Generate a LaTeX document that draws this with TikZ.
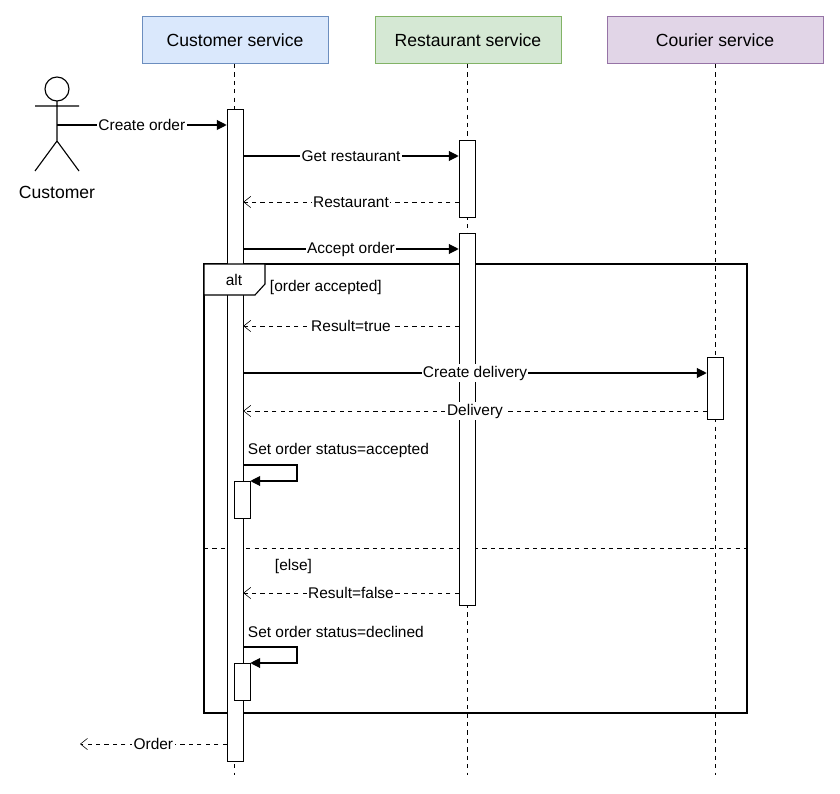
\documentclass[tikz,border=0pt]{standalone}
\usepackage{fontspec}
\setmainfont{Liberation Sans}
\usetikzlibrary{arrows.meta, positioning, calc}
\definecolor{csblue}{HTML}{DAE8FC}
\definecolor{csblueline}{HTML}{6C8EBF}
\definecolor{rsgreen}{HTML}{D5E8D4}
\definecolor{rsgreenline}{HTML}{82B366}
\definecolor{cspurple}{HTML}{E1D5E7}
\definecolor{cspurpleline}{HTML}{9673A6}
\begin{document}
\begin{tikzpicture}[x=0.025cm, y=-0.025cm,
  every node/.style={font=\fontsize{11}{13}\selectfont},
  service/.style={rectangle, draw, minimum width=4.65cm, minimum height=1.18cm, font=\fontsize{12.5}{15}\selectfont},
  act/.style={rectangle, draw, fill=white, minimum width=0.4cm, inner sep=0pt},
  life/.style={dashed, thin},
  msg/.style={-{Triangle[length=7pt, width=7pt]}, thick},
  ret/.style={-{Straight Barb[length=5pt, width=8pt]}, dashed, thin},
  lbl/.style={fill=white, inner sep=1pt},
]
\useasboundingbox (0,0) rectangle (840,794);

% Services
\node[service, fill=csblue, draw=csblueline] (cust) at (235,40) {Customer service};
\node[service, fill=rsgreen, draw=rsgreenline] (rest) at (468,40) {Restaurant service};
\node[service, fill=cspurple, draw=cspurpleline, minimum width=5.4cm] (cour) at (715,40) {Courier service};

% Lifelines
\coordinate (custend) at (234,775);
\coordinate (restend) at (467,775);
\coordinate (courend) at (715,775);
\draw[life] (cust.south -| custend) -- (custend);
\draw[life] (rest.south -| restend) -- (restend);
\draw[life] (cour.south -| courend) -- (courend);

% Actor
\draw[thick] (57,89) circle (12);
\draw[thick] (57,101) -- (57,141) (35,106) -- (79,106) (35,171) -- (57,141) -- (79,171);
\node (actor) at (57,192) {\fontsize{12.5}{15}\selectfont Customer};
\coordinate (actorhand) at (57,125);

% Frame
\draw[thick] (204,264) rectangle (747,713);
\node[anchor=west] (accepted) at (265,287) {[order accepted]};
\draw[dashed, thin] (204,548) -- (747,548);
\node[anchor=west] (else) at (270,566) {[else]};

% Activations
\node[act, minimum height=16.3cm, anchor=north] (a1) at (235,109) {};
\node[act, minimum height=1.93cm, anchor=north] (r1) at (467,140) {};
\node[act, minimum height=9.3cm, anchor=north] (r2) at (467,233) {};
\node[act, minimum height=1.55cm, anchor=north] (c1) at (715,357) {};
\node[act, minimum height=0.93cm, anchor=north] (s1) at (242,481) {};
\node[act, minimum height=0.93cm, anchor=north] (s2) at (242,663) {};

% Frame tab
\draw[thick, fill=white] (204,264) -- (265,264) -- (265,284) -- (255,295) -- (204,295) -- cycle;
\node (alt) at (234,280) {alt};

% Messages
\draw[msg] (actorhand) -- node[lbl] {Create order} (actorhand -| a1.west);
\draw[msg] (a1.east |- 0,156) -- node[lbl] {Get restaurant} (r1.west |- 0,156);
\draw[ret] (r1.west |- 0,202) -- node[lbl] {Restaurant} (a1.east |- 0,202);
\draw[msg] (a1.east |- 0,249) -- node[lbl] {Accept order} (r2.west |- 0,249);
\draw[ret] (r2.west |- 0,326) -- node[lbl] {Result=true} (a1.east |- 0,326);
\draw[msg] (a1.east |- 0,373) -- node[lbl] {Create delivery} (c1.west |- 0,373);
\draw[ret] (c1.west |- 0,411) -- node[lbl] {Delivery} (a1.east |- 0,411);
\draw[msg] (a1.east |- 0,465) -- (297,465) -- (297,481) -- (s1.north east);
\node[anchor=west] (setacc) at (243,450) {Set order status=accepted};
\draw[ret] (r2.west |- 0,593) -- node[lbl] {Result=false} (a1.east |- 0,593);
\draw[msg] (a1.east |- 0,647) -- (297,647) -- (297,663) -- (s2.north east);
\node[anchor=west] (setdec) at (243,632) {Set order status=declined};
\coordinate (orderend) at (80,744);
\draw[ret] (a1.west |- orderend) -- node[lbl] {Order} (orderend);
\end{tikzpicture}
\end{document}
